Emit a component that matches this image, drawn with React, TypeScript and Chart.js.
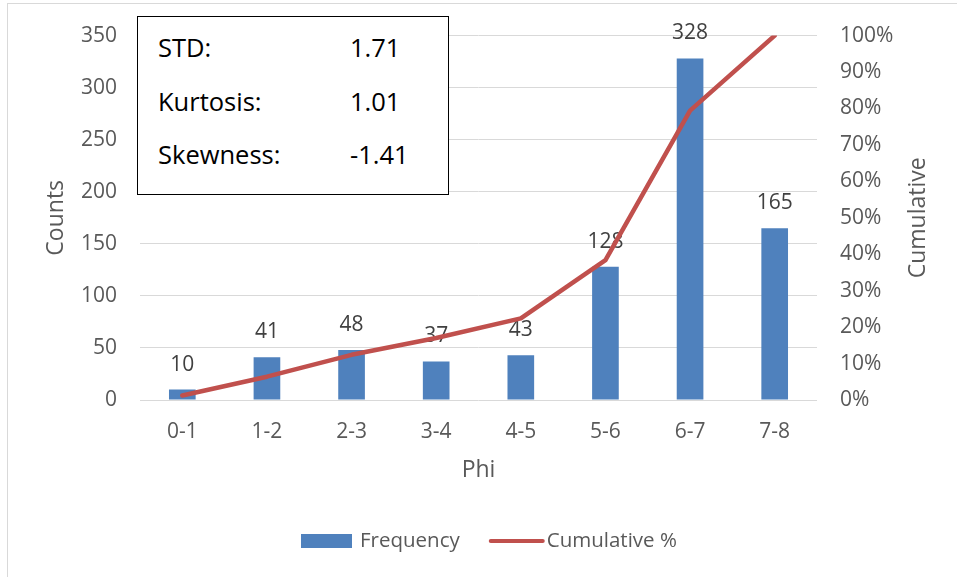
import React, { useEffect, useRef } from "react";
import { Chart, registerables } from "chart.js";

Chart.register(...registerables);

const categories = ["0-1", "1-2", "2-3", "3-4", "4-5", "5-6", "6-7", "7-8"];
const frequency = [10, 41, 48, 37, 43, 128, 328, 165];
const cumulativePct = [1.25, 6.4, 12.4, 17, 22.4, 38.4, 79.4, 100];
const statLabels = ["STD:", "Kurtosis:", "Skewness:"];
const statValues = ["1.71", "1.01", "-1.41"];
const xTitle = "Phi";
const yTitle = "Counts";
const y2Title = "Cumulative";
const seriesNames = ["Frequency", "Cumulative %"];

const FONT = "'Open Sans', sans-serif";
const TICK_COLOR = "#595959";
const BAR_COLOR = "#4f81bd";
const LINE_COLOR = "#c0504d";
const TICK_SIZE = 21;
const TITLE_SIZE = 23;

export default function App() {
  const canvasRef = useRef<HTMLCanvasElement | null>(null);

  useEffect(() => {
    const canvas = canvasRef.current;
    if (!canvas) return;

    const extras = {
      id: "extras",
      afterDatasetDraw(chart: any, args: any) {
        if (args.index !== 0) return;
        const ctx = chart.ctx;
        const meta = chart.getDatasetMeta(0);
        ctx.save();
        ctx.font = `${TICK_SIZE}px ${FONT}`;
        ctx.fillStyle = "#404040";
        ctx.textAlign = "center";
        ctx.textBaseline = "middle";
        meta.data.forEach((el: any, i: number) => {
          ctx.fillText(String(frequency[i]), el.x, el.y - 25);
        });
        ctx.restore();
      },
      afterDraw(chart: any) {
        const ctx = chart.ctx;
        const area = chart.chartArea;
        ctx.save();
        ctx.font = `${TITLE_SIZE}px ${FONT}`;
        ctx.fillStyle = TICK_COLOR;
        ctx.translate(918, (area.top + area.bottom) / 2);
        ctx.rotate(-Math.PI / 2);
        ctx.textAlign = "center";
        ctx.textBaseline = "middle";
        ctx.fillText(y2Title, 0, 0);
        ctx.restore();

        // legend
        ctx.save();
        ctx.font = `20.5px ${FONT}`;
        ctx.textBaseline = "middle";
        ctx.textAlign = "left";
        const ly = 541;
        let x = 301;
        ctx.fillStyle = BAR_COLOR;
        ctx.fillRect(x, ly - 7, 51, 14);
        x += 51 + 8;
        ctx.fillStyle = TICK_COLOR;
        ctx.fillText(seriesNames[0], x, ly);
        x += ctx.measureText(seriesNames[0]).width + 29;
        ctx.strokeStyle = LINE_COLOR;
        ctx.lineWidth = 4;
        ctx.lineCap = "round";
        ctx.beginPath();
        ctx.moveTo(x + 2, ly);
        ctx.lineTo(x + 54, ly);
        ctx.stroke();
        x += 58;
        ctx.fillStyle = TICK_COLOR;
        ctx.fillText(seriesNames[1], x, ly);
        ctx.restore();
      },
    };

    const chart = new Chart(canvas, {
      type: "bar",
      data: {
        labels: categories,
        datasets: [
          {
            type: "bar",
            label: seriesNames[0],
            data: frequency,
            backgroundColor: BAR_COLOR,
            yAxisID: "y",
            categoryPercentage: 1,
            barPercentage: 0.315,
            order: 1,
          },
          {
            type: "line",
            label: seriesNames[1],
            data: cumulativePct,
            borderColor: LINE_COLOR,
            backgroundColor: LINE_COLOR,
            borderWidth: 4.5,
            borderCapStyle: "round",
            borderJoinStyle: "round",
            pointRadius: 0,
            tension: 0,
            yAxisID: "y2",
            order: 0,
          },
        ],
      },
      options: {
        responsive: false,
        animation: false,
        layout: { padding: { top: 32, bottom: 87, left: 0, right: 0 } },
        plugins: {
          legend: { display: false },
          tooltip: { enabled: false },
        },
        scales: {
          x: {
            grid: { display: false },
            border: { display: false },
            ticks: { color: TICK_COLOR, font: { family: FONT, size: TICK_SIZE }, padding: 11 },
            title: {
              display: true,
              text: xTitle,
              color: TICK_COLOR,
              font: { family: FONT, size: TITLE_SIZE },
              padding: { top: 0, bottom: 6 },
            },
            afterFit: (s: any) => {
              s.height = 90;
            },
          },
          y: {
            position: "left",
            min: 0,
            max: 350,
            grid: { color: "#d9d9d9", lineWidth: 1, drawTicks: false },
            border: { display: false },
            ticks: {
              stepSize: 50,
              color: TICK_COLOR,
              font: { family: FONT, size: TICK_SIZE },
              padding: 23,
            },
            title: {
              display: true,
              text: yTitle,
              color: TICK_COLOR,
              font: { family: FONT, size: TITLE_SIZE },
              padding: { top: 43, bottom: 0 },
            },
            afterFit: (s: any) => {
              s.width = 140;
            },
          },
          y2: {
            position: "right",
            min: 0,
            max: 100,
            grid: { display: false, drawTicks: false },
            border: { display: false },
            ticks: {
              stepSize: 10,
              color: TICK_COLOR,
              font: { family: FONT, size: TICK_SIZE },
              padding: 23,
              callback: (v: any) => `${v}%`,
            },
            afterFit: (s: any) => {
              s.width = 140;
            },
          },
        },
      },
      plugins: [extras],
    });

    return () => chart.destroy();
  }, []);

  return (
    <div
      style={{
        position: "fixed",
        left: 0,
        top: 0,
        width: 957,
        height: 577,
        overflow: "hidden",
        background: "#ffffff",
      }}
    >
      <div
        style={{
          position: "absolute",
          left: 7,
          top: 3,
          width: 970,
          height: 590,
          border: "1px solid #d9d9d9",
        }}
      />
      <canvas
        ref={canvasRef}
        width={957}
        height={577}
        style={{ position: "absolute", left: 0, top: 0, width: 957, height: 577 }}
      />
      <div
        style={{
          position: "absolute",
          left: 137,
          top: 16,
          width: 310,
          height: 177,
          border: "1.5px solid #000000",
          background: "#ffffff",
          fontFamily: FONT,
          fontSize: 25.5,
          color: "#000000",
        }}
      >
        {statLabels.map((label, i) => (
          <div
            key={label}
            style={{
              position: "absolute",
              left: 20,
              top: 13 + i * 53.5,
              height: 34,
              lineHeight: "34px",
              width: 290,
            }}
          >
            <span>{label}</span>
            <span style={{ position: "absolute", left: 192 }}>{statValues[i]}</span>
          </div>
        ))}
      </div>
    </div>
  );
}
